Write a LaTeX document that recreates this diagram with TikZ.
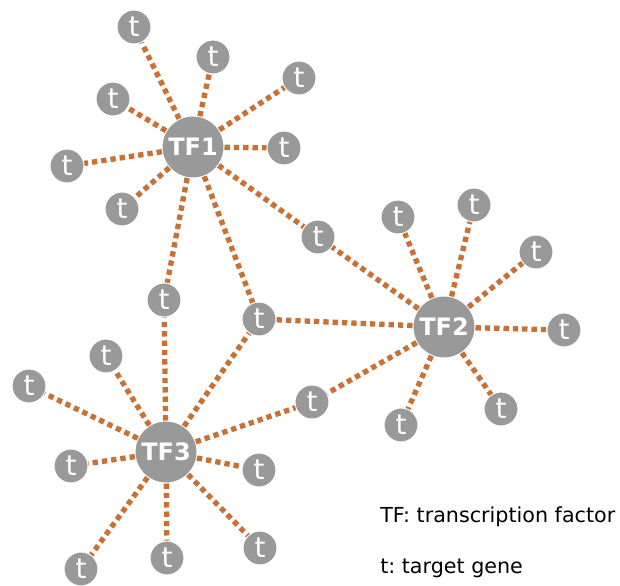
\documentclass[tikz,border=0pt]{standalone}
\usepackage{fontspec}
\setmainfont{DejaVu Sans}
\usepackage{tikz}
\usetikzlibrary{positioning}
\definecolor{tfgris}{HTML}{999999}
\definecolor{tforange}{HTML}{C87137}
\tikzset{
  tf/.style={circle,fill=tfgris,draw=white,line width=0.75pt,minimum size=46.5pt,inner sep=0pt,
    text=white,font=\fontsize{18}{21}\selectfont\bfseries},
  tg/.style={circle,fill=tfgris,draw=white,line width=0.75pt,minimum size=25.5pt,inner sep=0pt,
    text=white,font=\fontsize{21}{24}\selectfont},
  lien/.style={tforange,line width=4pt,dash pattern=on 4pt off 3pt},
  legende/.style={anchor=base west,inner sep=0pt,font=\fontsize{15.5}{18}\selectfont}
}
\frenchspacing
\begin{document}
\begin{tikzpicture}[x=0.75pt,y=-0.75pt]
  \useasboundingbox (0,0) rectangle (620,585);
  % facteurs
  \node[tf] (tf1) at (193,147){TF1};
  \node[tf] (tf2) at (444,327){TF2};
  \node[tf] (tf3) at (166,452){TF3};
  % cibles : nom / x / y
  \foreach \n/\x/\y in {a1/134/27, a2/213/57, a3/299/78, a4/113/99, a5/284/148, a6/67/166, a7/122/209,
      b1/398/217, b2/474/205, b3/536/252, b4/564/330, b5/501/409, b6/401/425,
      c1/106/356, c2/29/386, c3/71/466, c4/259/470, c5/260/548, c6/167/558, c7/81/569,
      s12/318/237, s13/164/300, s23/312/402, s123/259/319} {
    \node[tg] (\n) at (\x,\y){t};
  }
  % liens
  \foreach \a/\b in {tf1/a1, tf1/a2, tf1/a3, tf1/a4, tf1/a5, tf1/a6, tf1/a7,
      tf2/b1, tf2/b2, tf2/b3, tf2/b4, tf2/b5, tf2/b6,
      tf3/c1, tf3/c2, tf3/c3, tf3/c4, tf3/c5, tf3/c6, tf3/c7,
      tf1/s12, tf2/s12, tf1/s13, tf3/s13, tf2/s23, tf3/s23, tf1/s123, tf2/s123, tf3/s123} {
    \draw[lien] (\a) -- (\b);
  }
  % legende
  \node[legende] (leg1) at (380,522){TF: transcription factor};
  \node[legende] (leg2) at (380,573){t: target gene};
\end{tikzpicture}
\end{document}
